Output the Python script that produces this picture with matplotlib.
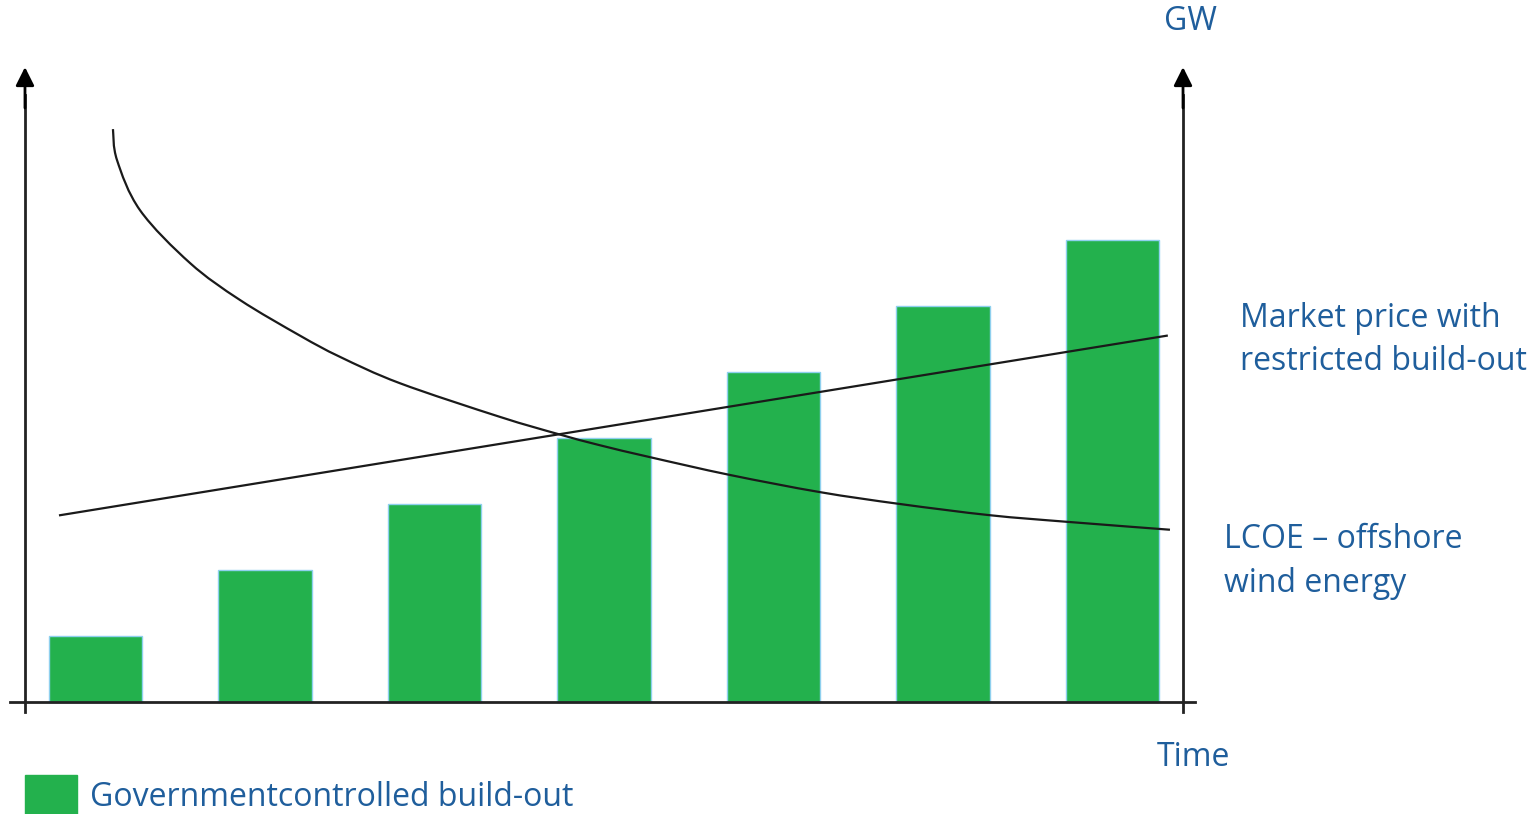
import matplotlib.pyplot as plt
from matplotlib.patches import Rectangle, PathPatch
from matplotlib.path import Path

# build-out per period (GW, relative)
periods = [0, 1, 2, 3, 4, 5, 6]
build_out = [1, 2, 3, 4, 5, 6, 7]

# LCOE curve
lcoe_x = [0.103, 0.127, 0.263, 0.558, 0.853, 1.207, 1.442, 1.796,
          2.386, 2.729, 2.976, 3.271, 3.743, 4.274, 4.746, 5.277, 5.732, 6.339]
lcoe_y = [8.68, 8.21, 7.45, 6.65, 6.09, 5.55, 5.23, 4.83,
          4.32, 4.06, 3.89, 3.71, 3.44, 3.18, 3.00, 2.83, 2.73, 2.61]

# market price with restricted build-out (straight line)
price_x = [-0.209, 6.32]
price_y = [2.83, 5.55]

txt_col = '#1f5e9c'
bar_col = '#23b14d'
plt.rcParams['font.family'] = ['Open Sans', 'DejaVu Sans']

W, H = 1539, 814
fig = plt.figure(figsize=(W / 100, H / 100), dpi=100)
ax = fig.add_axes([0, 0, 1, 1])
# 1 bar step = 169.5 px, 1 unit of height = 66 px
ax.set_xlim((0 - 95.5) / 169.5, (W - 95.5) / 169.5)
ax.set_ylim((702 - H) / 66, 702 / 66)
ax.axis('off')

ax.bar(periods, build_out, width=0.55, color=bar_col, edgecolor='#8fd0ee',
       linewidth=1.0, zorder=2)

ax.plot(price_x, price_y, color='#1a1a1a', lw=1.6, zorder=3)


def smooth_path(xs, ys):
    # catmull-rom through the read points, drawn as cubic bezier segments
    pts = list(zip(xs, ys))
    verts = [pts[0]]
    codes = [Path.MOVETO]
    for i in range(len(pts) - 1):
        p0 = pts[max(i - 1, 0)]
        p1, p2 = pts[i], pts[i + 1]
        p3 = pts[min(i + 2, len(pts) - 1)]
        c1 = (p1[0] + (p2[0] - p0[0]) / 6, p1[1] + (p2[1] - p0[1]) / 6)
        c2 = (p2[0] - (p3[0] - p1[0]) / 6, p2[1] - (p3[1] - p1[1]) / 6)
        verts += [c1, c2, p2]
        codes += [Path.CURVE4] * 3
    return Path(verts, codes)


ax.add_patch(PathPatch(smooth_path(lcoe_x, lcoe_y), fill=False,
                       edgecolor='#1a1a1a', lw=1.6, zorder=3))

# axes with arrows
x_left, x_right = -0.416, 6.416
ax.plot([-0.504, 6.487], [0, 0], color='#222222', lw=2, zorder=4)
for xa in (x_left, x_right):
    ax.plot([xa, xa], [-0.15, 9.2], color='#222222', lw=2, zorder=4)
    ax.annotate('', xy=(xa, 9.62), xytext=(xa, 9.0),
                arrowprops=dict(arrowstyle='-|>', color='black', lw=2,
                                mutation_scale=28, shrinkA=0, shrinkB=0),
                zorder=5)


def ftext(px, py, s, ha='left'):
    fig.text(px / W, 1 - py / H, s, color=txt_col, fontsize=23, ha=ha, va='center')


ftext(1190, 22, 'GW', ha='center')
ftext(1240, 318, 'Market price with')
ftext(1240, 362, 'restricted build-out')
ftext(1224, 539, 'LCOE \u2013 offshore')
ftext(1224, 583, 'wind energy')
ftext(1157, 757, 'Time')

# legend
fig.patches.append(Rectangle((25 / W, 1 - 814 / H), 52 / W, 39 / H,
                             transform=fig.transFigure, color=bar_col))
ftext(90, 798, 'Governmentcontrolled build-out')

fig.savefig('out.png', dpi=100)
